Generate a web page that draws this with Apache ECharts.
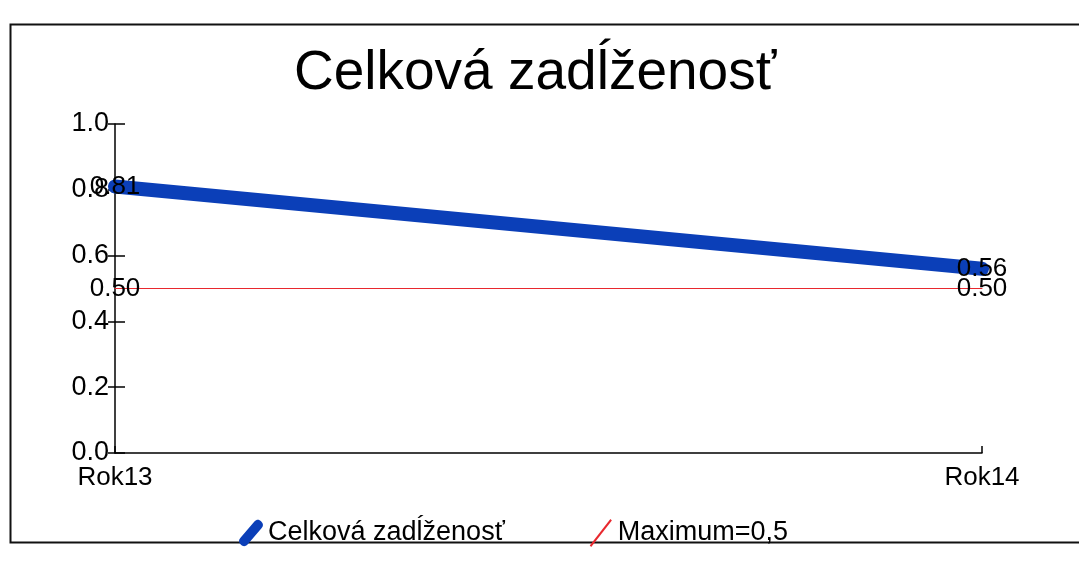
<!DOCTYPE html>
<html>
<head>
<meta charset="utf-8">
<script src="https://cdn.jsdelivr.net/npm/echarts@6/dist/echarts.min.js"></script>
<style>
html,body{margin:0;padding:0;background:#fff;}
#c{width:1079px;height:561px;}
</style>
</head>
<body>
<div id="c"></div>
<script>
var categories = ['Rok13', 'Rok14'];
var totalDebt = [0.81, 0.56];
var maximum = [0.50, 0.50];
var yTicks = [0.0, 0.2, 0.4, 0.6, 0.8, 1.0];
var titleText = 'Celková zadĺženosť';
var seriesNames = ['Celková zadĺženosť', 'Maximum=0,5'];

var font = '"Liberation Sans", Arial, sans-serif';
var chart = echarts.init(document.getElementById('c'));
var lbl = {
  show: true, position: 'inside', color: '#000', fontSize: 26, fontFamily: font,
  formatter: function (p) { return p.value.toFixed(2); }
};
chart.setOption({
  backgroundColor: '#fff',
  animation: false,
  title: {
    text: titleText, left: 289, top: 41,
    textStyle: { fontSize: 55, fontWeight: 'normal', color: '#000', fontFamily: font }
  },
  legend: {
    top: 514, left: 234, itemGap: 85, itemWidth: 24, itemHeight: 28,
    textStyle: { fontSize: 27, color: '#000', fontFamily: font },
    data: [
      { name: seriesNames[0], itemStyle: { color: '#0b3fb8' }, icon: 'path://M2,22 C0,20 0,18 2,16 L14,2 C16,0 18,0 20,2 C22,4 22,6 20,8 L8,22 C6,24 4,24 2,22 Z' },
      { name: seriesNames[1], itemStyle: { color: '#e8282e' }, icon: 'path://M6,24 L20,6 L21,7 L7,25 Z' }
    ]
  },
  graphic: [{
    type: 'rect', left: 8, top: 22, silent: true,
    shape: { width: 1090, height: 518 },
    style: { fill: 'none', stroke: '#111', lineWidth: 2 }
  }],
  grid: { left: 115, right: 97, top: 124, bottom: 108 },
  xAxis: [{
    type: 'category', data: categories, boundaryGap: false,
    axisLine: { lineStyle: { color: '#000', width: 1.5 } },
    axisTick: { show: true, alignWithLabel: true, inside: true, length: 7, lineStyle: { color: '#000', width: 1.5 } },
    axisLabel: { color: '#000', fontSize: 26, fontFamily: font, margin: 12 },
    splitLine: { show: false }
  }],
  yAxis: [{
    type: 'value', min: 0, max: 1, interval: 0.2,
    axisLine: { show: true, lineStyle: { color: '#000', width: 1.5 } },
    axisTick: { show: true, length: 7, lineStyle: { color: '#000', width: 1.5 } },
    axisLabel: { color: '#000', fontSize: 27, fontFamily: font, margin: 6,
      formatter: function (v) { return v.toFixed(1); } },
    splitLine: { show: false }
  }, {
    type: 'value', min: 0, max: 1, interval: 0.2, position: 'left',
    axisLine: { show: false },
    axisTick: { show: true, inside: true, length: 10, lineStyle: { color: '#000', width: 1.5 } },
    axisLabel: { show: false },
    splitLine: { show: false }
  }],
  series: [{
    name: seriesNames[0], type: 'line', data: totalDebt,
    symbol: 'circle', symbolSize: 1, color: '#0b3fb8',
    lineStyle: { width: 14, color: '#0b3fb8', cap: 'round' },
    label: lbl, z: 3
  }, {
    name: seriesNames[1], type: 'line', data: maximum,
    symbol: 'circle', symbolSize: 1, color: '#e8282e',
    lineStyle: { width: 1.2, color: '#e8282e' },
    label: lbl, z: 2
  }]
});
</script>
</body>
</html>
